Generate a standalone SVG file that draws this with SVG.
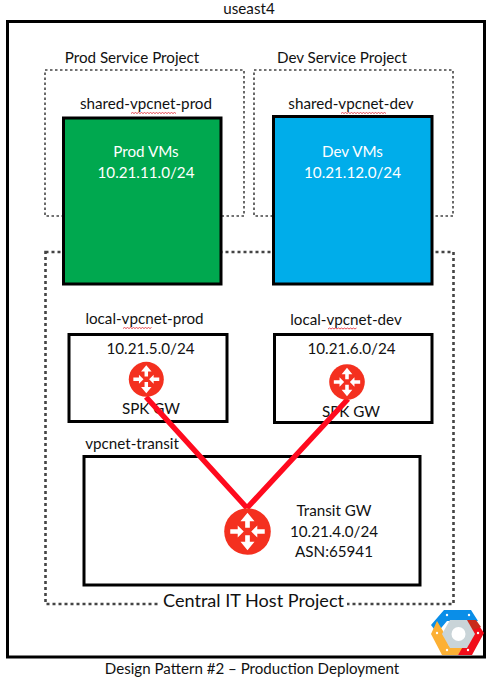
<svg xmlns="http://www.w3.org/2000/svg" width="491" height="678" viewBox="0 0 491 678">
<style>
text{font-family:Lato,"Liberation Sans",sans-serif;font-size:15.200px;fill:#111;text-anchor:middle}
.w{fill:#fff}
.box{fill:#fff;stroke:#000;stroke-width:3}
.dot{fill:none;stroke:#444;stroke-width:1.600;stroke-dasharray:2.500 2.500}
.dot2{fill:none;stroke:#444;stroke-width:2.600;stroke-dasharray:3 3}
.squig{fill:none;stroke:#e0202a;stroke-width:.8}
.gw{fill:#f4301f}
.arr{fill:#fff}
</style>
<defs>
<g id="router">
<circle class="gw" r="10"/>
<path class="arr" d="M0-8 3-4.400H1V-1.600H-1V-4.400H-3ZM0 8 3 4.400H1V1.600H-1V4.400H-3ZM-1.600 0-4.200-2.600V-1H-7.400V1H-4.200V2.600ZM1.600 0 4.200-2.600V-1H7.400V1H4.200V2.600Z"/>
</g>
</defs>
<rect width="491" height="678" fill="#fff"/>
<g id="region"><rect x="7.500" y="21.500" width="477" height="635.500" fill="#fff" stroke="#000" stroke-width="3"/><text x="249" y="14">useast4</text></g>
<g id="prod-project"><rect class="dot" x="45" y="70" width="199" height="146"/><text x="132" y="63">Prod Service Project</text></g>
<g id="dev-project"><rect class="dot" x="254" y="70" width="199" height="146"/><text x="342" y="62.500">Dev Service Project</text></g>
<g id="host-project"><rect class="dot2" x="45.500" y="252" width="408" height="352"/><rect x="160" y="592" width="187" height="22" fill="#fff"/><text x="253.500" y="607" style="font-size:18.100px">Central IT Host Project</text></g>
<g id="prod-vms"><text x="146" y="109">shared-vpcnet-prod</text><path class="squig" d="M131 113.500l1.500-1 1.500 1 1.500-1 1.500 1 1.500-1 1.500 1 1.500-1 1.500 1 1.500-1 1.500 1 1.500-1 1.500 1 1.500-1 1.500 1 1.500-1 1.500 1 1.500-1 1.500 1 1.500-1 1.500 1 1.500-1 1.500 1 1.500-1 1.500 1 1.500-1 1.500 1 1.500-1 1.500 1 1.500-1 1.500 1"/><rect x="63.500" y="118" width="157.500" height="166" fill="#00a84f" stroke="#000" stroke-width="3"/><text class="w" x="146" y="157">Prod VMs</text><text class="w" x="146" y="177.500">10.21.11.0/24</text></g>
<g id="dev-vms"><text x="351" y="109">shared-vpcnet-dev</text><path class="squig" d="M341 113.500l1.500-1 1.500 1 1.500-1 1.500 1 1.500-1 1.500 1 1.500-1 1.500 1 1.500-1 1.500 1 1.500-1 1.500 1 1.500-1 1.500 1 1.500-1 1.500 1 1.500-1 1.500 1 1.500-1 1.500 1 1.500-1 1.500 1 1.500-1 1.500 1 1.500-1 1.500 1 1.500-1 1.500 1 1.500-1 1.500 1"/><rect x="273.500" y="116.500" width="158.500" height="167.500" fill="#00adea" stroke="#000" stroke-width="3"/><text class="w" x="352.500" y="157">Dev VMs</text><text class="w" x="352.500" y="177.500">10.21.12.0/24</text></g>
<g id="local-prod"><text x="144.500" y="324">local-vpcnet-prod</text><path class="squig" d="M123 328.500l1.500-1 1.500 1 1.500-1 1.500 1 1.500-1 1.500 1 1.500-1 1.500 1 1.500-1 1.500 1 1.500-1 1.500 1 1.500-1 1.500 1 1.500-1 1.500 1 1.500-1 1.500 1 1.500-1"/><rect class="box" x="69" y="334.500" width="158" height="87"/><text x="150.500" y="354">10.21.5.0/24</text><text x="151" y="414">SPK GW</text></g>
<g id="local-dev"><text x="346" y="325">local-vpcnet-dev</text><path class="squig" d="M328 329l1.500-1 1.500 1 1.500-1 1.500 1 1.500-1 1.500 1 1.500-1 1.500 1 1.500-1 1.500 1 1.500-1 1.500 1 1.500-1 1.500 1 1.500-1 1.500 1 1.500-1 1.500 1 1.500-1"/><rect class="box" x="274.500" y="334.500" width="157.500" height="88"/><text x="351.500" y="354">10.21.6.0/24</text><text x="351" y="417">SPK GW</text></g>
<g id="transit"><text x="132" y="449">vpcnet-transit</text><rect class="box" x="84" y="456.500" width="336" height="128.500"/><text x="334" y="516">Transit GW</text><text x="334" y="536.500">10.21.4.0/24</text><text x="334" y="556.500">ASN:65941</text></g>
<g id="connectors"><path d="M146 397 247 508M348 399 247 508" fill="none" stroke="#ff0a1e" stroke-width="5.500"/></g>
<g id="gw-prod"><use href="#router" transform="translate(146.300 379.300) scale(1.750)"/></g>
<g id="gw-dev"><use href="#router" transform="translate(347 382) scale(1.780)"/></g>
<g id="gw-transit"><use href="#router" transform="translate(247.500 531.500) scale(2.330)"/></g>
<g id="caption"><text x="252" y="674" style="font-size:15.100px">Design Pattern #2 – Production Deployment</text></g>
<g id="logo">
<path d="M444 610H471L478 621 447 621 437 633 431 625Z" fill="#0a8ee8"/>
<path d="M437 621 443 631 449 646H465L458 655H442L431 634Z" fill="#fcb034"/>
<path d="M465 621H476L484 633 472 655H458L468 638Z" fill="#f10d1a"/>
<path d="M465 620H476L481 627 473 630Z" fill="#c92a1c"/>
<path d="M450 620H467L475 634 467 648H450L442 634Z" fill="#c9d4d8"/>
<circle cx="458.500" cy="634" r="7" fill="#fff"/>
<g fill="#fff"><circle cx="447" cy="615" r="1.200"/><circle cx="469" cy="615" r="1.200"/><circle cx="478" cy="633" r="1.200"/><circle cx="468" cy="650" r="1.200"/><circle cx="447" cy="650" r="1.200"/><circle cx="437" cy="633" r="1.200"/></g>
</g>
</svg>
